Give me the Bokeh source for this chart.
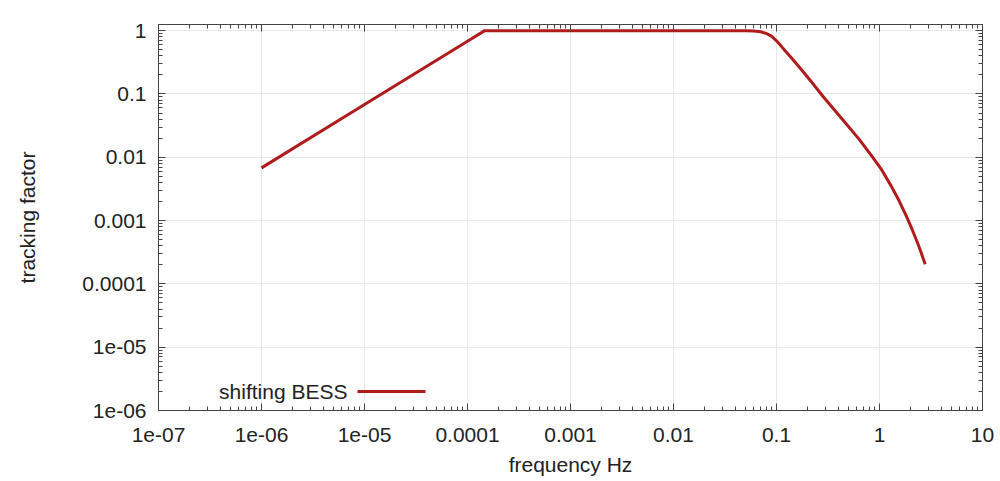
from bokeh.plotting import figure
from bokeh.models import FixedTicker, LogAxis, Label, Arrow
from bokeh.embed import file_html
from bokeh.resources import INLINE

# ---- data ----
freq_hz = [1e-6, 1e-5, 1e-4, 1.47e-4, 1e-3, 1e-2, 0.05, 0.06, 0.07, 0.08, 0.09, 0.1,
           0.11, 0.12, 0.14, 0.17, 0.2, 0.29, 0.45, 0.63, 0.85, 1.06, 1.3, 1.55, 1.8,
           2.07, 2.4, 2.78]
tracking_factor = [0.0068, 0.068, 0.68, 1.0, 1.0, 1.0, 1.0, 0.99, 0.96, 0.9, 0.81, 0.69,
                   0.58, 0.49, 0.37, 0.255, 0.185, 0.087, 0.0375, 0.0195, 0.0102, 0.0062,
                   0.0035, 0.00205, 0.00123, 0.00073, 0.0004, 0.000204]
series_name = "shifting BESS"

x_tick_values = [1e-7, 1e-6, 1e-5, 1e-4, 1e-3, 1e-2, 1e-1, 1.0, 10.0]
x_tick_labels = ["1e-07", "1e-06", "1e-05", "0.0001", "0.001", "0.01", "0.1", "1", "10"]
y_tick_values = [1e-6, 1e-5, 1e-4, 1e-3, 1e-2, 1e-1, 1.0]
y_tick_labels = ["1e-06", "1e-05", "0.0001", "0.001", "0.01", "0.1", "1"]
x_title = "frequency Hz"
y_title = "tracking factor"

FONT = "Liberation Sans"
TXT = "#222222"
AX = "#444444"
LINE = "#b01c1c"


def minors(majors):
    return [m * k for m in majors[:-1] for k in range(2, 10)]


p = figure(width=1000, height=481, x_axis_type="log", y_axis_type="log",
           x_range=(1e-7, 10), y_range=(1e-6, 1.25),
           output_backend="svg", toolbar_location=None,
           min_border_left=158, min_border_right=18, min_border_top=24, min_border_bottom=71,
           background_fill_color="white", border_fill_color="white")

p.line(freq_hz, tracking_factor, line_color=LINE, line_width=3, line_join="round")

xt = FixedTicker(ticks=x_tick_values, minor_ticks=minors(x_tick_values))
yt = FixedTicker(ticks=y_tick_values, minor_ticks=minors(y_tick_values))


def style(ax, ticker):
    ax.ticker = ticker
    ax.major_tick_in = 7
    ax.major_tick_out = 0
    ax.minor_tick_in = 4
    ax.minor_tick_out = 0
    ax.axis_line_color = AX
    ax.major_tick_line_color = AX
    ax.minor_tick_line_color = AX
    ax.major_label_text_font = FONT
    ax.major_label_text_font_size = "21px"
    ax.major_label_text_color = TXT
    ax.axis_label_text_font = FONT
    ax.axis_label_text_font_size = "21px"
    ax.axis_label_text_font_style = "normal"
    ax.axis_label_text_color = TXT


for ax in p.xaxis:
    style(ax, xt)
    ax.major_label_overrides = dict(zip(x_tick_values, x_tick_labels))
    ax.axis_label = x_title
    ax.major_label_standoff = 17
    ax.axis_label_standoff = 8
for ax in p.yaxis:
    style(ax, yt)
    ax.major_label_overrides = dict(zip(y_tick_values, y_tick_labels))
    ax.axis_label = y_title
    ax.major_label_standoff = 12
    ax.axis_label_standoff = 40

top_ax = LogAxis()
style(top_ax, xt)
top_ax.major_label_text_font_size = "1px"
top_ax.major_label_text_alpha = 0
top_ax.major_label_standoff = 0
p.add_layout(top_ax, "above")
right_ax = LogAxis()
style(right_ax, yt)
right_ax.major_label_text_font_size = "1px"
right_ax.major_label_text_alpha = 0
right_ax.major_label_standoff = 0
p.add_layout(right_ax, "right")

p.outline_line_color = AX
p.grid.grid_line_color = "#e8e8e8"
p.grid.grid_line_width = 1

# legend (gnuplot style: text then sample line)
p.add_layout(Label(x=189, y=19, x_units="screen", y_units="screen", text=series_name,
                   text_align="right", text_baseline="middle", text_font=FONT,
                   text_font_size="21px", text_color=TXT))
p.add_layout(Arrow(x_start=199, y_start=19, x_end=267, y_end=19,
                   start_units="screen", end_units="screen", start=None, end=None,
                   line_color=LINE, line_width=3))

open("out.html", "w").write(file_html(p, INLINE))
